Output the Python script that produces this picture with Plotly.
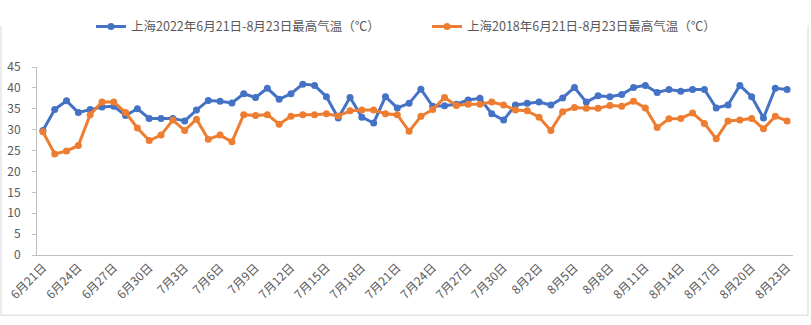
import plotly.graph_objects as go

# categories: 6月21日 .. 8月23日
months = [6] * 10 + [7] * 31 + [8] * 23
days = list(range(21, 31)) + list(range(1, 32)) + list(range(1, 24))
dates = [f"{m}月{d}日" for m, d in zip(months, days)]

temp_2022 = [29.8, 34.8, 36.9, 34.1, 34.8, 35.4, 35.6, 33.4, 35.0, 32.7,
             32.7, 32.7, 32.1, 34.7, 37.0, 36.8, 36.4, 38.6, 37.7, 39.9,
             37.3, 38.6, 40.9, 40.6, 37.9, 32.8, 37.7, 33.0, 31.6, 37.9,
             35.2, 36.3, 39.7, 35.6, 35.7, 36.1, 37.1, 37.5, 33.8, 32.3,
             35.9, 36.3, 36.6, 35.9, 37.6, 40.1, 36.6, 38.1, 37.9, 38.4,
             40.1, 40.6, 38.9, 39.6, 39.2, 39.6, 39.6, 35.2, 35.9, 40.6,
             37.9, 32.8, 39.9, 39.6]

temp_2018 = [29.5, 24.2, 24.9, 26.2, 33.6, 36.6, 36.6, 34.1, 30.4, 27.4,
             28.7, 32.3, 29.8, 32.5, 27.7, 28.7, 27.1, 33.6, 33.4, 33.6,
             31.3, 33.2, 33.6, 33.6, 33.8, 33.3, 34.5, 34.7, 34.7, 33.8,
             33.6, 29.6, 33.2, 34.8, 37.7, 35.8, 36.1, 36.1, 36.6, 35.9,
             34.7, 34.5, 33.0, 29.8, 34.3, 35.3, 35.1, 35.1, 35.8, 35.6,
             36.8, 35.2, 30.5, 32.6, 32.7, 34.0, 31.5, 27.8, 32.1, 32.3,
             32.7, 30.2, 33.2, 32.1]

name_2022 = "上海2022年6月21日-8月23日最高气温（℃）"
name_2018 = "上海2018年6月21日-8月23日最高气温（℃）"

y_ticks = list(range(0, 50, 5))
x_ticks = dates[::3]

font_family = "Noto Sans CJK SC, Noto Sans, sans-serif"
grey = "#595959"

fig = go.Figure()
fig.add_trace(go.Scatter(
    x=dates, y=temp_2022, name=name_2022, mode="lines+markers",
    line=dict(color="#4472C4", width=3),
    marker=dict(color="#4472C4", size=7),
))
fig.add_trace(go.Scatter(
    x=dates, y=temp_2018, name=name_2018, mode="lines+markers",
    line=dict(color="#ED7D31", width=3),
    marker=dict(color="#ED7D31", size=7),
))

W, H = 756, 209  # plot area in px
fig.update_layout(
    width=811, height=325,
    margin=dict(l=37, r=18, t=46, b=70),
    paper_bgcolor="white", plot_bgcolor="white",
    font=dict(family=font_family, size=12, color=grey),
    showlegend=True,
    legend=dict(orientation="h", x=54 / W, xanchor="left", y=1 + 28 / H, yanchor="bottom",
                font=dict(size=12.5, color=grey), entrywidth=291, entrywidthmode="pixels",
                bgcolor="rgba(0,0,0,0)"),
    xaxis=dict(
        type="category", categoryorder="array", categoryarray=dates,
        range=[-0.5, len(dates) - 0.5], automargin=False,
        tickmode="array", tickvals=x_ticks, ticktext=x_ticks,
        tickangle=-45, showgrid=False, showline=True, linecolor="#BFBFBF",
        linewidth=1, ticks="", tickfont=dict(size=12, color=grey),
        zeroline=False,
    ),
    yaxis=dict(
        range=[0, 45], tickmode="array", tickvals=y_ticks, automargin=False,
        showgrid=False, showline=True, linecolor="#BFBFBF", linewidth=1,
        ticks="outside", ticklen=4, tickcolor="#BFBFBF", ticklabelstandoff=9,
        tickfont=dict(size=12, color=grey), zeroline=False,
    ),
    shapes=[
        dict(type="line", xref="paper", yref="paper",
             x0=-36 / W, x1=-36 / W, y0=-67 / H, y1=1 + 46 / H,
             line=dict(color="#D9D9D9", width=1)),
        dict(type="line", xref="paper", yref="paper",
             x0=1 + 15 / W, x1=1 + 15 / W, y0=-67 / H, y1=1 + 46 / H,
             line=dict(color="#D9D9D9", width=1)),
        dict(type="line", xref="paper", yref="paper",
             x0=-36 / W, x1=1 + 15 / W, y0=-67 / H, y1=-67 / H,
             line=dict(color="#D9D9D9", width=1)),
    ],
)

fig.write_html("out.html")
